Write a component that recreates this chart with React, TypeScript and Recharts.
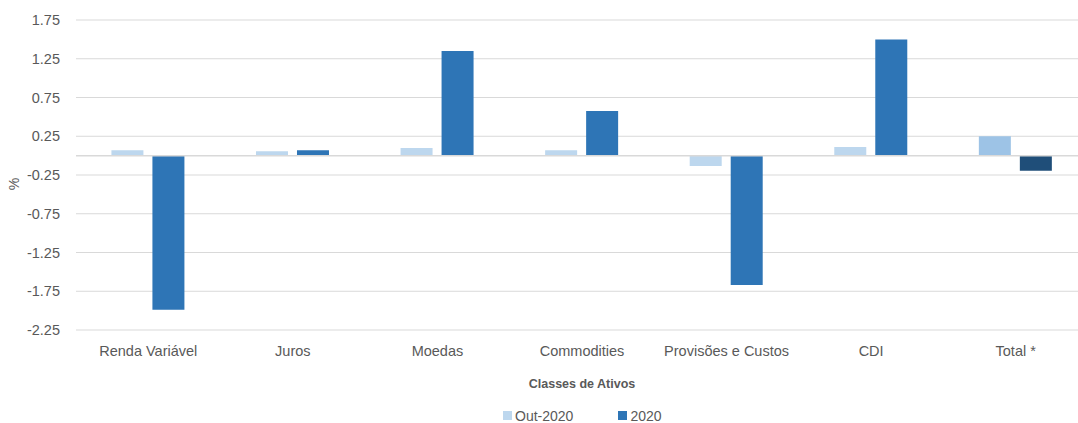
import { BarChart, Bar, XAxis, YAxis, CartesianGrid, ReferenceLine, Legend, Cell } from 'recharts';

const categories = ['Renda Variável', 'Juros', 'Moedas', 'Commodities', 'Provisões e Custos', 'CDI', 'Total *'];
const out2020 = [0.07, 0.055, 0.1, 0.07, -0.135, 0.11, 0.25];
const ano2020 = [-1.99, 0.07, 1.35, 0.575, -1.67, 1.5, -0.195];
const yTicks = [-2.25, -1.75, -1.25, -0.75, -0.25, 0.25, 0.75, 1.25, 1.75];

const data = categories.map((name, i) => ({ name, out: out2020[i], ano: ano2020[i] }));

const FONT = '"Liberation Sans", Arial, sans-serif';
const TEXT = '#595959';

const PercentLabel = () => (
  <text x={19} y={184} fill={TEXT} fontSize={14} fontFamily={FONT} textAnchor="middle" transform="rotate(-90 19 184)">
    %
  </text>
);

const LegendContent = () => (
  <div style={{ height: 33, boxSizing: 'border-box', paddingTop: 18, paddingLeft: 503, display: 'flex', justifyContent: 'flex-start', fontFamily: FONT, fontSize: 14, color: TEXT, lineHeight: '16px' }}>
    <span style={{ display: 'flex', alignItems: 'center', marginRight: 45 }}>
      <span style={{ width: 9, height: 9, background: '#BDD7EE', marginRight: 3 }} />
      Out-2020
    </span>
    <span style={{ display: 'flex', alignItems: 'center' }}>
      <span style={{ width: 9, height: 9, background: '#2E75B6', marginRight: 3 }} />
      2020
    </span>
  </div>
);

export default function App() {
  return (
    <div style={{ position: 'absolute', left: 0, top: 0, width: 1078, height: 423, overflow: 'hidden', background: '#fff' }}>
      <BarChart width={1078} height={423} data={data} margin={{ top: 20, right: -10, left: 0, bottom: 0 }} barCategoryGap="24.5%" barGap={9}>
        <CartesianGrid vertical={false} stroke="#d9d9d9" />
        <XAxis
          dataKey="name"
          axisLine={false}
          tickLine={false}
          height={60}
          tickMargin={10}
          tick={{ fill: TEXT, fontSize: 14.5, fontFamily: FONT }}
          interval={0}
          label={{ value: 'Classes de Ativos', position: 'insideBottom', offset: 2, fill: TEXT, fontSize: 12.5, fontWeight: 'bold', fontFamily: FONT }}
        />
        <YAxis
          type="number"
          domain={[-2.25, 1.75]}
          ticks={yTicks}
          width={76}
          axisLine={false}
          tickLine={false}
          tickMargin={10}
          tickFormatter={(v: number) => v.toFixed(2)}
          tick={{ fill: TEXT, fontSize: 14.5, fontFamily: FONT }}
          label={<PercentLabel />}
        />
        <ReferenceLine y={0} stroke="#d9d9d9" strokeWidth={1.5} />
        <Legend verticalAlign="bottom" content={<LegendContent />} />
        <Bar dataKey="out" name="Out-2020" fill="#BDD7EE" isAnimationActive={false}>
          {data.map((d, i) => (
            <Cell key={i} fill={d.name === 'Total *' ? '#9DC3E6' : '#BDD7EE'} />
          ))}
        </Bar>
        <Bar dataKey="ano" name="2020" fill="#2E75B6" isAnimationActive={false}>
          {data.map((d, i) => (
            <Cell key={i} fill={d.name === 'Total *' ? '#1F4E79' : '#2E75B6'} />
          ))}
        </Bar>
      </BarChart>
    </div>
  );
}
